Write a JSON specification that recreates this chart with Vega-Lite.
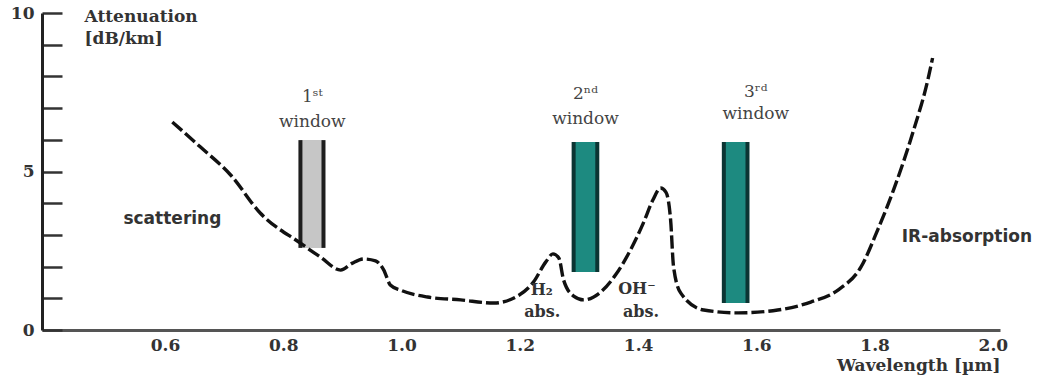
{
  "$schema": "https://vega.github.io/schema/vega-lite/v6.json",
  "width": 958,
  "height": 317,
  "autosize": {"type": "none"},
  "padding": {"left": 42, "top": 13, "right": 62, "bottom": 51},
  "background": "white",
  "config": {"view": {"stroke": null}},
  "datasets": {
    "curve": [
      {"w": 0.6125, "a": 6.56}, {"w": 0.660, "a": 5.77}, {"w": 0.711, "a": 4.89},
      {"w": 0.761, "a": 3.69}, {"w": 0.829, "a": 2.74}, {"w": 0.863, "a": 2.30},
      {"w": 0.897, "a": 1.89}, {"w": 0.917, "a": 2.11}, {"w": 0.936, "a": 2.24},
      {"w": 0.956, "a": 2.18}, {"w": 0.970, "a": 1.89}, {"w": 0.981, "a": 1.42},
      {"w": 0.998, "a": 1.26}, {"w": 1.044, "a": 1.04}, {"w": 1.100, "a": 0.95},
      {"w": 1.156, "a": 0.85}, {"w": 1.190, "a": 1.01}, {"w": 1.223, "a": 1.51},
      {"w": 1.244, "a": 2.15}, {"w": 1.256, "a": 2.40}, {"w": 1.266, "a": 2.27},
      {"w": 1.274, "a": 1.58}, {"w": 1.291, "a": 1.07}, {"w": 1.308, "a": 0.95},
      {"w": 1.337, "a": 1.20}, {"w": 1.362, "a": 1.74}, {"w": 1.387, "a": 2.52},
      {"w": 1.409, "a": 3.38}, {"w": 1.425, "a": 4.10}, {"w": 1.438, "a": 4.48},
      {"w": 1.447, "a": 4.35}, {"w": 1.455, "a": 3.47}, {"w": 1.460, "a": 1.99},
      {"w": 1.472, "a": 1.17}, {"w": 1.511, "a": 0.63}, {"w": 1.569, "a": 0.54},
      {"w": 1.636, "a": 0.63}, {"w": 1.692, "a": 0.88}, {"w": 1.738, "a": 1.26},
      {"w": 1.777, "a": 1.99}, {"w": 1.805, "a": 3.15}, {"w": 1.832, "a": 4.42},
      {"w": 1.866, "a": 6.31}, {"w": 1.890, "a": 7.89}, {"w": 1.898, "a": 8.58}
    ],
    "windows": [
      {"name": "1st", "w0": 0.829, "w1": 0.868, "top": 5.99, "bottom": 2.59},
      {"name": "2nd", "w0": 1.291, "w1": 1.331, "top": 5.93, "bottom": 1.83},
      {"name": "3rd", "w0": 1.545, "w1": 1.585, "top": 5.93, "bottom": 0.85}
    ],
    "windowLabels": [
      {"t": "1ˢᵗ", "w": 0.849, "a": 7.35},
      {"t": "window", "w": 0.849, "a": 6.55},
      {"t": "2ⁿᵈ", "w": 1.311, "a": 7.45},
      {"t": "window", "w": 1.311, "a": 6.65},
      {"t": "3ʳᵈ", "w": 1.599, "a": 7.50},
      {"t": "window", "w": 1.599, "a": 6.80}
    ],
    "sansLabels": [
      {"t": "scattering", "w": 0.6125, "a": 3.50},
      {"t": "IR-absorption", "w": 1.956, "a": 2.93}
    ],
    "absLabels": [
      {"t": "H₂", "w": 1.237, "a": 1.26},
      {"t": "abs.", "w": 1.238, "a": 0.57},
      {"t": "OH⁻", "w": 1.398, "a": 1.30},
      {"t": "abs.", "w": 1.405, "a": 0.57}
    ]
  },
  "layer": [
    {
      "data": {"name": "windows"},
      "mark": {"type": "rect"},
      "encoding": {
        "x": {"field": "w0", "type": "quantitative",
          "scale": {"domain": [0.392, 2.012], "nice": false, "zero": false},
          "axis": {
            "values": [0.6, 0.8, 1.0, 1.2, 1.4, 1.6, 1.8, 2.0],
            "format": ".1f",
            "ticks": false,
            "grid": false,
            "domainColor": "#555555",
            "domainWidth": 3,
            "labelFont": "DejaVu Serif",
            "labelFontWeight": "bold",
            "labelFontSize": 17,
            "labelColor": "#333333",
            "labelPadding": 7,
            "title": "Wavelength [µm]",
            "titleFont": "DejaVu Serif",
            "titleFontWeight": "bold",
            "titleFontSize": 17,
            "titleColor": "#333333",
            "titleAnchor": "end",
            "titleAlign": "right",
            "titlePadding": 4
          }
        },
        "x2": {"field": "w1"},
        "y": {"field": "top", "type": "quantitative",
          "scale": {"domain": [0, 10], "nice": false, "zero": true},
          "axis": {
            "values": [0, 1, 2, 3, 4, 5, 6, 7, 8, 9, 10],
            "tickCount": 11,
            "labelExpr": "datum.value % 5 == 0 ? datum.label : ''",
            "labelOverlap": false,
            "labelFont": "DejaVu Serif",
            "labelFontWeight": "bold",
            "labelFontSize": 17,
            "labelColor": "#333333",
            "labelPadding": 28,
            "grid": false,
            "tickSize": -20,
            "tickWidth": 2.5,
            "tickColor": "#333333",
            "domainColor": "#222222",
            "domainWidth": 3,
            "title": ["Attenuation", "[dB/km]"],
            "titleFont": "DejaVu Serif",
            "titleFontWeight": "bold",
            "titleFontSize": 17,
            "titleColor": "#333333",
            "titleAngle": 0,
            "titleAlign": "left",
            "titleBaseline": "top",
            "titleX": 42,
            "titleY": -5,
            "titleLineHeight": 22
          }
        },
        "y2": {"field": "bottom"},
        "fill": {"field": "name", "type": "nominal",
          "scale": {"domain": ["1st", "2nd", "3rd"], "range": ["#c6c6c6", "#1d8a80", "#1d8a80"]},
          "legend": null}
      }
    },
    {
      "data": {"name": "windows"},
      "mark": {"type": "rule", "strokeWidth": 4},
      "encoding": {
        "x": {"field": "w0", "type": "quantitative"},
        "y": {"field": "top", "type": "quantitative"},
        "y2": {"field": "bottom"},
        "color": {"field": "name", "type": "nominal",
          "scale": {"domain": ["1st", "2nd", "3rd"], "range": ["#1e1e1e", "#0b3533", "#0b3533"]},
          "legend": null}
      }
    },
    {
      "data": {"name": "windows"},
      "mark": {"type": "rule", "strokeWidth": 4},
      "encoding": {
        "x": {"field": "w1", "type": "quantitative"},
        "y": {"field": "top", "type": "quantitative"},
        "y2": {"field": "bottom"},
        "color": {"field": "name", "type": "nominal", "legend": null}
      }
    },
    {
      "data": {"name": "curve"},
      "mark": {"type": "line", "interpolate": "monotone", "color": "#111111", "strokeWidth": 3.4, "strokeDash": [13, 4]},
      "encoding": {
        "x": {"field": "w", "type": "quantitative"},
        "y": {"field": "a", "type": "quantitative"}
      }
    },
    {
      "data": {"name": "windowLabels"},
      "mark": {"type": "text", "font": "DejaVu Serif", "fontSize": 17, "color": "#444444", "baseline": "middle", "align": "center"},
      "encoding": {
        "x": {"field": "w", "type": "quantitative"},
        "y": {"field": "a", "type": "quantitative"},
        "text": {"field": "t"}
      }
    },
    {
      "data": {"name": "sansLabels"},
      "mark": {"type": "text", "font": "DejaVu Sans", "fontSize": 17, "fontWeight": "bold", "color": "#333333", "baseline": "middle", "align": "center"},
      "encoding": {
        "x": {"field": "w", "type": "quantitative"},
        "y": {"field": "a", "type": "quantitative"},
        "text": {"field": "t"}
      }
    },
    {
      "data": {"name": "absLabels"},
      "mark": {"type": "text", "font": "DejaVu Serif", "fontSize": 16, "fontWeight": "bold", "color": "#333333", "baseline": "middle", "align": "center"},
      "encoding": {
        "x": {"field": "w", "type": "quantitative"},
        "y": {"field": "a", "type": "quantitative"},
        "text": {"field": "t"}
      }
    }
  ]
}
